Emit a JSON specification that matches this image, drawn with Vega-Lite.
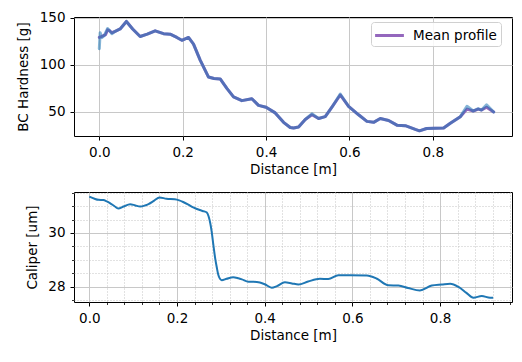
{
  "$schema": "https://vega.github.io/schema/vega-lite/v6.json",
  "padding": {"left": 15, "top": 10, "right": 0, "bottom": 5},
  "background": "white",
  "spacing": 14,
  "columns": 1,
  "align": "none",
  "datasets": {
    "hardness": [
      {"d": 0.000, "v": 129, "s": "Mean profile"},
      {"d": 0.005, "v": 130, "s": "Mean profile"},
      {"d": 0.015, "v": 132, "s": "Mean profile"},
      {"d": 0.020, "v": 137, "s": "Mean profile"},
      {"d": 0.025, "v": 136, "s": "Mean profile"},
      {"d": 0.030, "v": 134, "s": "Mean profile"},
      {"d": 0.038, "v": 135.5, "s": "Mean profile"},
      {"d": 0.050, "v": 138, "s": "Mean profile"},
      {"d": 0.065, "v": 146, "s": "Mean profile"},
      {"d": 0.080, "v": 138, "s": "Mean profile"},
      {"d": 0.098, "v": 130, "s": "Mean profile"},
      {"d": 0.115, "v": 132.5, "s": "Mean profile"},
      {"d": 0.134, "v": 136, "s": "Mean profile"},
      {"d": 0.154, "v": 133, "s": "Mean profile"},
      {"d": 0.170, "v": 132.5, "s": "Mean profile"},
      {"d": 0.186, "v": 129, "s": "Mean profile"},
      {"d": 0.198, "v": 126, "s": "Mean profile"},
      {"d": 0.214, "v": 129, "s": "Mean profile"},
      {"d": 0.226, "v": 122, "s": "Mean profile"},
      {"d": 0.242, "v": 105, "s": "Mean profile"},
      {"d": 0.262, "v": 87, "s": "Mean profile"},
      {"d": 0.275, "v": 85.5, "s": "Mean profile"},
      {"d": 0.290, "v": 85, "s": "Mean profile"},
      {"d": 0.306, "v": 75, "s": "Mean profile"},
      {"d": 0.322, "v": 66, "s": "Mean profile"},
      {"d": 0.342, "v": 62, "s": "Mean profile"},
      {"d": 0.366, "v": 64, "s": "Mean profile"},
      {"d": 0.382, "v": 57, "s": "Mean profile"},
      {"d": 0.400, "v": 55, "s": "Mean profile"},
      {"d": 0.422, "v": 49, "s": "Mean profile"},
      {"d": 0.442, "v": 39, "s": "Mean profile"},
      {"d": 0.458, "v": 33.5, "s": "Mean profile"},
      {"d": 0.466, "v": 33, "s": "Mean profile"},
      {"d": 0.478, "v": 34, "s": "Mean profile"},
      {"d": 0.494, "v": 42, "s": "Mean profile"},
      {"d": 0.510, "v": 47, "s": "Mean profile"},
      {"d": 0.526, "v": 43, "s": "Mean profile"},
      {"d": 0.542, "v": 45, "s": "Mean profile"},
      {"d": 0.558, "v": 55, "s": "Mean profile"},
      {"d": 0.578, "v": 68, "s": "Mean profile"},
      {"d": 0.598, "v": 56, "s": "Mean profile"},
      {"d": 0.622, "v": 47, "s": "Mean profile"},
      {"d": 0.642, "v": 40, "s": "Mean profile"},
      {"d": 0.658, "v": 39, "s": "Mean profile"},
      {"d": 0.674, "v": 43, "s": "Mean profile"},
      {"d": 0.694, "v": 41, "s": "Mean profile"},
      {"d": 0.714, "v": 36, "s": "Mean profile"},
      {"d": 0.734, "v": 35.5, "s": "Mean profile"},
      {"d": 0.758, "v": 31.5, "s": "Mean profile"},
      {"d": 0.768, "v": 30, "s": "Mean profile"},
      {"d": 0.785, "v": 32.5, "s": "Mean profile"},
      {"d": 0.826, "v": 33, "s": "Mean profile"},
      {"d": 0.842, "v": 38, "s": "Mean profile"},
      {"d": 0.866, "v": 45, "s": "Mean profile"},
      {"d": 0.882, "v": 53, "s": "Mean profile"},
      {"d": 0.897, "v": 51, "s": "Mean profile"},
      {"d": 0.909, "v": 53, "s": "Mean profile"},
      {"d": 0.917, "v": 52, "s": "Mean profile"},
      {"d": 0.929, "v": 55, "s": "Mean profile"},
      {"d": 0.946, "v": 50, "s": "Mean profile"},
      {"d": 0.000, "v": 117, "s": "Profile 1"},
      {"d": 0.002, "v": 134, "s": "Profile 1"},
      {"d": 0.006, "v": 129, "s": "Profile 1"},
      {"d": 0.012, "v": 131, "s": "Profile 1"},
      {"d": 0.020, "v": 138.5, "s": "Profile 1"},
      {"d": 0.025, "v": 136, "s": "Profile 1"},
      {"d": 0.030, "v": 133, "s": "Profile 1"},
      {"d": 0.038, "v": 135.5, "s": "Profile 1"},
      {"d": 0.050, "v": 138, "s": "Profile 1"},
      {"d": 0.065, "v": 146, "s": "Profile 1"},
      {"d": 0.080, "v": 138, "s": "Profile 1"},
      {"d": 0.098, "v": 130, "s": "Profile 1"},
      {"d": 0.115, "v": 132.5, "s": "Profile 1"},
      {"d": 0.134, "v": 136, "s": "Profile 1"},
      {"d": 0.154, "v": 133, "s": "Profile 1"},
      {"d": 0.170, "v": 132.5, "s": "Profile 1"},
      {"d": 0.186, "v": 129, "s": "Profile 1"},
      {"d": 0.198, "v": 126, "s": "Profile 1"},
      {"d": 0.214, "v": 129, "s": "Profile 1"},
      {"d": 0.226, "v": 122, "s": "Profile 1"},
      {"d": 0.242, "v": 105, "s": "Profile 1"},
      {"d": 0.262, "v": 87, "s": "Profile 1"},
      {"d": 0.275, "v": 85.5, "s": "Profile 1"},
      {"d": 0.290, "v": 85, "s": "Profile 1"},
      {"d": 0.306, "v": 75, "s": "Profile 1"},
      {"d": 0.322, "v": 66, "s": "Profile 1"},
      {"d": 0.342, "v": 62, "s": "Profile 1"},
      {"d": 0.366, "v": 64, "s": "Profile 1"},
      {"d": 0.382, "v": 57, "s": "Profile 1"},
      {"d": 0.400, "v": 55, "s": "Profile 1"},
      {"d": 0.422, "v": 49, "s": "Profile 1"},
      {"d": 0.442, "v": 39, "s": "Profile 1"},
      {"d": 0.458, "v": 33.5, "s": "Profile 1"},
      {"d": 0.466, "v": 33, "s": "Profile 1"},
      {"d": 0.478, "v": 34, "s": "Profile 1"},
      {"d": 0.494, "v": 42, "s": "Profile 1"},
      {"d": 0.510, "v": 48, "s": "Profile 1"},
      {"d": 0.526, "v": 43, "s": "Profile 1"},
      {"d": 0.542, "v": 45, "s": "Profile 1"},
      {"d": 0.558, "v": 55, "s": "Profile 1"},
      {"d": 0.578, "v": 69, "s": "Profile 1"},
      {"d": 0.598, "v": 56, "s": "Profile 1"},
      {"d": 0.622, "v": 47, "s": "Profile 1"},
      {"d": 0.642, "v": 40, "s": "Profile 1"},
      {"d": 0.658, "v": 39, "s": "Profile 1"},
      {"d": 0.674, "v": 43, "s": "Profile 1"},
      {"d": 0.694, "v": 41, "s": "Profile 1"},
      {"d": 0.714, "v": 36, "s": "Profile 1"},
      {"d": 0.734, "v": 35.5, "s": "Profile 1"},
      {"d": 0.758, "v": 31.5, "s": "Profile 1"},
      {"d": 0.768, "v": 30, "s": "Profile 1"},
      {"d": 0.785, "v": 32.5, "s": "Profile 1"},
      {"d": 0.826, "v": 33, "s": "Profile 1"},
      {"d": 0.842, "v": 38, "s": "Profile 1"},
      {"d": 0.866, "v": 45, "s": "Profile 1"},
      {"d": 0.882, "v": 56, "s": "Profile 1"},
      {"d": 0.897, "v": 51, "s": "Profile 1"},
      {"d": 0.909, "v": 53.5, "s": "Profile 1"},
      {"d": 0.917, "v": 52, "s": "Profile 1"},
      {"d": 0.929, "v": 57.5, "s": "Profile 1"},
      {"d": 0.946, "v": 50, "s": "Profile 1"}
    ],
    "caliper": [
      {"d": 0.000, "c": 31.35}, {"d": 0.012, "c": 31.27}, {"d": 0.021, "c": 31.23},
      {"d": 0.032, "c": 31.22}, {"d": 0.040, "c": 31.17}, {"d": 0.047, "c": 31.11},
      {"d": 0.057, "c": 31.00}, {"d": 0.066, "c": 30.91}, {"d": 0.078, "c": 30.98},
      {"d": 0.093, "c": 31.07}, {"d": 0.105, "c": 31.02}, {"d": 0.116, "c": 30.98},
      {"d": 0.127, "c": 31.02}, {"d": 0.135, "c": 31.07}, {"d": 0.148, "c": 31.20},
      {"d": 0.160, "c": 31.32}, {"d": 0.176, "c": 31.27}, {"d": 0.195, "c": 31.25},
      {"d": 0.205, "c": 31.21}, {"d": 0.214, "c": 31.15}, {"d": 0.226, "c": 31.05},
      {"d": 0.237, "c": 30.95}, {"d": 0.252, "c": 30.85}, {"d": 0.262, "c": 30.80},
      {"d": 0.268, "c": 30.76}, {"d": 0.272, "c": 30.62}, {"d": 0.276, "c": 30.35},
      {"d": 0.279, "c": 30.06}, {"d": 0.283, "c": 29.55}, {"d": 0.287, "c": 29.07},
      {"d": 0.291, "c": 28.70}, {"d": 0.294, "c": 28.46}, {"d": 0.298, "c": 28.30},
      {"d": 0.302, "c": 28.25}, {"d": 0.313, "c": 28.30}, {"d": 0.328, "c": 28.36},
      {"d": 0.340, "c": 28.32}, {"d": 0.348, "c": 28.28}, {"d": 0.363, "c": 28.19},
      {"d": 0.375, "c": 28.19}, {"d": 0.389, "c": 28.16}, {"d": 0.400, "c": 28.10},
      {"d": 0.416, "c": 27.97}, {"d": 0.428, "c": 28.03}, {"d": 0.446, "c": 28.17},
      {"d": 0.462, "c": 28.13}, {"d": 0.477, "c": 28.09}, {"d": 0.499, "c": 28.20},
      {"d": 0.526, "c": 28.30}, {"d": 0.545, "c": 28.29}, {"d": 0.568, "c": 28.43},
      {"d": 0.595, "c": 28.43}, {"d": 0.633, "c": 28.42}, {"d": 0.655, "c": 28.31},
      {"d": 0.682, "c": 28.06}, {"d": 0.705, "c": 28.05}, {"d": 0.727, "c": 27.96},
      {"d": 0.754, "c": 27.87}, {"d": 0.781, "c": 28.05}, {"d": 0.804, "c": 28.09},
      {"d": 0.823, "c": 28.12}, {"d": 0.842, "c": 28.00}, {"d": 0.860, "c": 27.78},
      {"d": 0.876, "c": 27.60}, {"d": 0.895, "c": 27.66}, {"d": 0.914, "c": 27.60},
      {"d": 0.921, "c": 27.60}
    ]
  },
  "concat": [
    {
      "width": 438,
      "height": 119,
      "data": {"name": "hardness"},
      "layer": [
        {
          "transform": [{"filter": "datum.s === 'Mean profile'"}],
          "mark": {"type": "line", "strokeWidth": 3, "strokeCap": "round", "strokeJoin": "round"},
          "encoding": {
            "x": {"field": "d", "type": "quantitative", "scale": {"domain": [-0.0607, 0.99], "nice": false, "zero": false},
                  "axis": {"title": "Distance [m]", "values": [0, 0.2, 0.4, 0.6, 0.8], "format": ".1f", "grid": true, "titlePadding": 4}},
            "y": {"field": "v", "type": "quantitative", "scale": {"domain": [24.5, 150.7], "nice": false, "zero": false},
                  "axis": {"title": "BC Hardness [g]", "values": [50, 100, 150], "format": "d", "grid": true, "titlePadding": 9}},
            "color": {"field": "s", "type": "nominal", "scale": {"domain": ["Mean profile"], "range": ["#9467bd"]},
                      "legend": {"title": null, "orient": "none", "legendX": 297, "legendY": 5}}
          }
        },
        {
          "transform": [{"filter": "datum.s === 'Profile 1'"}],
          "mark": {"type": "line", "strokeWidth": 3, "strokeCap": "round", "strokeJoin": "round", "color": "#1f77b4", "opacity": 0.55},
          "encoding": {
            "x": {"field": "d", "type": "quantitative"},
            "y": {"field": "v", "type": "quantitative"}
          }
        }
      ]
    },
    {
      "width": 438,
      "height": 110,
      "data": {"name": "caliper"},
      "layer": [
        {
          "mark": {"type": "line", "opacity": 0},
          "encoding": {
            "x": {"field": "d", "type": "quantitative", "scale": {"domain": [-0.0349, 0.964], "nice": false, "zero": false},
                  "axis": {"orient": "bottom", "title": null, "labels": false, "domain": false, "values": [0.04, 0.08, 0.12, 0.16, 0.24, 0.28, 0.32, 0.36, 0.44, 0.48, 0.52, 0.56, 0.64, 0.68, 0.72, 0.76, 0.84, 0.88, 0.92, 0.96],
                           "grid": true, "gridDash": [1, 2], "gridColor": "#c4c4c4", "tickSize": 2.5, "tickWidth": 0.8}},
            "y": {"field": "c", "type": "quantitative", "scale": {"domain": [27.44, 31.52], "nice": false, "zero": false},
                  "axis": {"orient": "left", "title": null, "labels": false, "domain": false, "values": [27.5, 28.5, 29, 29.5, 30.5, 31, 31.5],
                           "grid": true, "gridDash": [1, 2], "gridColor": "#c4c4c4", "tickSize": 2.5, "tickWidth": 0.8}}
          }
        },
        {
          "mark": {"type": "line", "color": "#1f77b4", "strokeWidth": 2, "interpolate": "monotone"},
          "encoding": {
            "x": {"field": "d", "type": "quantitative",
                  "axis": {"orient": "bottom", "title": "Distance [m]", "values": [0, 0.2, 0.4, 0.6, 0.8], "format": ".1f", "grid": true, "titlePadding": 4}},
            "y": {"field": "c", "type": "quantitative",
                  "axis": {"orient": "left", "title": "Caliper [um]", "values": [28, 30], "format": "d", "grid": true, "titlePadding": 8}}
          }
        }
      ],
      "resolve": {"axis": {"x": "independent", "y": "independent"}}
    }
  ],
  "config": {
    "font": "DejaVu Sans",
    "view": {"stroke": "#000", "strokeWidth": 1},
    "axis": {
      "labelFontSize": 13.5, "titleFontSize": 13.5, "titleFontWeight": "normal",
      "labelColor": "#000", "titleColor": "#000", "tickColor": "#000",
      "domain": false, "tickSize": 4, "tickWidth": 1, "labelPadding": 5,
      "gridColor": "#c8c8c8", "gridWidth": 1
    },
    "legend": {
      "padding": 4,
      "strokeColor": "#d0d0d0", "cornerRadius": 3, "fillColor": "rgba(255,255,255,0.85)",
      "symbolType": "M-1.8,0H1.8", "symbolStrokeWidth": 3, "symbolSize": 256, "symbolOffset": 5,
      "labelFontSize": 13.5, "labelColor": "#000", "labelOffset": 14
    }
  }
}
